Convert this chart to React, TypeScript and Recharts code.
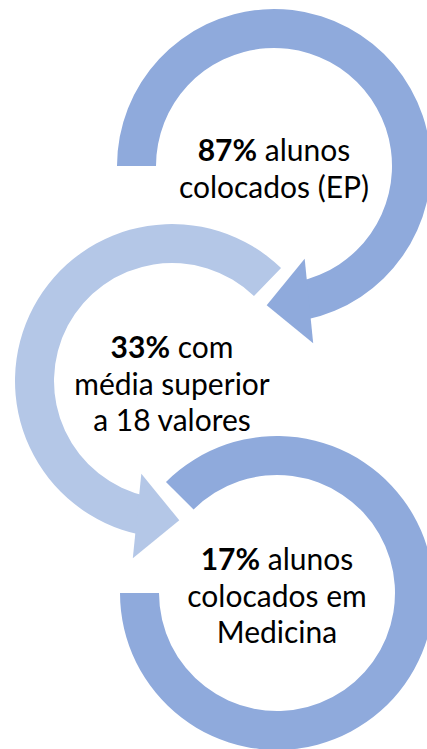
import { PieChart, Pie, Cell } from "recharts";

const values = [87, 33, 17];
const firstLineWords = ["alunos", "com", "alunos"];
const extraLines = [
  ["colocados (EP)"],
  ["média superior", "a 18 valores"],
  ["colocados em", "Medicina"],
];

const DARK = "#8FAADC";
const LIGHT = "#B4C7E7";

// posição e sentido de cada seta circular (ângulos à maneira do recharts)
const rings = [
  { cx: 274, cy: 166, start: 180, end: -78, fill: DARK, arrow: { base: -75.5, tip: -93 } },
  { cx: 172, cy: 381, start: 46, end: 258, fill: LIGHT, arrow: { base: 255.5, tip: 273 } },
  { cx: 277, cy: 593, start: 180, end: 495, fill: DARK, arrow: null },
];

const RAD = Math.PI / 180;
const polar = (cx: number, cy: number, r: number, a: number) => ({
  x: cx + r * Math.cos(-a * RAD),
  y: cy + r * Math.sin(-a * RAD),
});

const LINE_H = 36.5;
const HEAD_HALF = 42.5;

const renderRing = (i: number) => (props: any) => {
  const { cx, cy, innerRadius, outerRadius } = props;
  const ring = rings[i];
  const lines = extraLines[i];
  const firstY = cy + 13.5 - (lines.length * LINE_H) / 2;

  let head = null;
  if (ring.arrow) {
    const rm = (innerRadius + outerRadius) / 2 + 2;
    const b = polar(cx, cy, rm, ring.arrow.base);
    const t = polar(cx, cy, rm, ring.arrow.tip);
    const len = Math.hypot(t.x - b.x, t.y - b.y);
    const nx = -(t.y - b.y) / len;
    const ny = (t.x - b.x) / len;
    head = (
      <polygon
        points={`${b.x + nx * HEAD_HALF},${b.y + ny * HEAD_HALF} ${t.x},${t.y} ${b.x - nx * HEAD_HALF},${b.y - ny * HEAD_HALF}`}
        fill={ring.fill}
      />
    );
  }

  return (
    <g key={`ring-${i}`}>
      {head}
      <text
        x={cx}
        y={firstY}
        textAnchor="middle"
        fontFamily="Lato, sans-serif"
        fontSize={30}
        fill="#000"
      >
        <tspan fontWeight="bold">{values[i]}%</tspan>
        <tspan>{" " + firstLineWords[i]}</tspan>
        {lines.map((l, k) => (
          <tspan key={k} x={cx} dy={LINE_H}>
            {l}
          </tspan>
        ))}
      </text>
    </g>
  );
};

export default function App() {
  return (
    <div style={{ position: "absolute", left: 0, top: 0 }}>
      <PieChart width={427} height={749} margin={{ top: 0, right: 0, bottom: 0, left: 0 }}>
        {rings.map((ring, i) => (
          <Pie
            key={i}
            data={[{ name: `r${i}`, value: values[i] }]}
            dataKey="value"
            cx={ring.cx}
            cy={ring.cy}
            innerRadius={118}
            outerRadius={157}
            startAngle={ring.start}
            endAngle={ring.end}
            stroke="none"
            label={renderRing(i)}
            labelLine={false}
            isAnimationActive={false}
          >
            <Cell fill={ring.fill} />
          </Pie>
        ))}
      </PieChart>
    </div>
  );
}
